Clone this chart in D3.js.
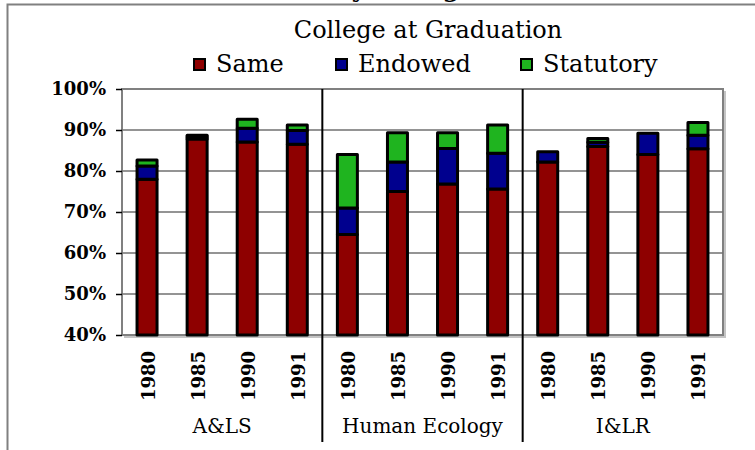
<!DOCTYPE html>
<html>
<head>
<meta charset="utf-8">
<script src="https://cdn.jsdelivr.net/npm/d3@7"></script>
<style>
    body { margin: 0; background: #fff; }
    svg { display: block; }
</style>
</head>
<body>
<svg id="chart" width="755" height="450"></svg>
<script>
// chart data
const groups = ["A&LS", "Human Ecology", "I&LR"];
const years = ["1980", "1985", "1990", "1991"];
const seriesNames = ["Same", "Endowed", "Statutory"];
const seriesColors = ["#8e0000", "#00008e", "#1fb41f"];
const same      = [78.0, 87.8, 87.1, 86.5, 64.5, 75.0, 76.8, 75.6, 82.2, 86.0, 84.0, 85.4];
const endowed   = [3.2, 0.5, 3.3, 3.4, 6.5, 7.2, 8.7, 8.7, 2.5, 1.0, 5.2, 3.3];
const statutory = [1.5, 0.4, 2.2, 1.3, 13.0, 7.1, 3.8, 6.9, 0.0, 0.9, 0.0, 3.1];
const yTicks = [40, 50, 60, 70, 80, 90, 100];

const svg = d3.select("#chart");
const plot = { left: 122, right: 723, top: 89, bottom: 335 };

// one row per bar: group|year
const rows = [];
groups.forEach((g, gi) => {
    years.forEach((yr, yi) => {
        const i = gi * years.length + yi;
        rows.push({ key: g + "|" + yr, group: g, year: yr, Same: same[i], Endowed: endowed[i], Statutory: statutory[i] });
    });
});

const x = d3.scaleBand().domain(rows.map(d => d.key)).range([plot.left, plot.right]);
const y = d3.scaleLinear().domain([40, 100]).range([plot.bottom, plot.top]);
const yMin = y.domain()[0];
const stack = d3.stack().keys(seriesNames)(rows);
const barWidth = 20;

// outer chart frame (clipped at right / bottom)
svg.append("path")
    .attr("d", "M7.5,450V4.5H755")
    .attr("fill", "none").attr("stroke", "#808080").attr("stroke-width", 2);

// top title, only its descenders show
svg.append("text")
    .attr("x", 335).attr("y", -3)
    .attr("font-family", "DejaVu Serif").attr("font-weight", "bold").attr("font-size", 24)
    .text("by College");

// plot area with light shadow
svg.append("path")
    .attr("d", `M${plot.right + 2},${plot.top + 2}V${plot.bottom + 2}H${plot.left + 2}`)
    .attr("fill", "none").attr("stroke", "#c4c4c4").attr("stroke-width", 2);
svg.append("rect")
    .attr("x", plot.left).attr("y", plot.top)
    .attr("width", plot.right - plot.left).attr("height", plot.bottom - plot.top)
    .attr("fill", "#fff").attr("stroke", "#808080").attr("stroke-width", 2);

// gridlines
svg.append("g").selectAll("line")
    .data(yTicks.slice(1, -1))
    .join("line")
    .attr("x1", plot.left).attr("x2", plot.right)
    .attr("y1", d => y(d)).attr("y2", d => y(d))
    .attr("stroke", "#707070").attr("stroke-width", 1.5);

// y axis
const yAxis = svg.append("g")
    .attr("transform", `translate(${plot.left},0)`)
    .call(d3.axisLeft(y).tickValues(yTicks).tickFormat(d => d + "%").tickSizeInner(6).tickSizeOuter(0).tickPadding(10));
yAxis.select(".domain").remove();
yAxis.selectAll(".tick line").attr("stroke", "#000").attr("stroke-width", 1.5);
yAxis.selectAll(".tick text")
    .attr("font-family", "DejaVu Serif").attr("font-weight", "bold").attr("font-size", 18).attr("fill", "#000");

// stacked bars, cut at the axis minimum
svg.append("g").selectAll("g")
    .data(stack)
    .join("g")
    .attr("fill", (d, i) => seriesColors[i])
    .selectAll("rect")
    .data(d => d.filter(s => s[1] > s[0]))
    .join("rect")
    .attr("x", d => x(d.data.key) + x.bandwidth() / 2 - barWidth / 2)
    .attr("y", d => y(d[1]))
    .attr("width", barWidth)
    .attr("height", d => y(Math.max(d[0], yMin)) - y(d[1]))
    .attr("stroke", "#000").attr("stroke-width", 3).attr("stroke-linejoin", "round");

// group separators
const groupStep = x.step() * years.length;
svg.append("g").selectAll("line")
    .data(groups.slice(1))
    .join("line")
    .attr("x1", (d, i) => plot.left + groupStep * (i + 1))
    .attr("x2", (d, i) => plot.left + groupStep * (i + 1))
    .attr("y1", plot.top).attr("y2", 442)
    .attr("stroke", "#000").attr("stroke-width", 2);

// year labels (rotated)
svg.append("g").selectAll("text")
    .data(rows)
    .join("text")
    .attr("transform", d => `translate(${x(d.key) + x.bandwidth() / 2 + 1},351) rotate(-90)`)
    .attr("text-anchor", "end").attr("dy", "0.36em")
    .attr("font-family", "DejaVu Serif").attr("font-weight", "bold").attr("font-size", 18)
    .text(d => d.year);

// group labels
svg.append("g").selectAll("text")
    .data(groups)
    .join("text")
    .attr("x", (d, i) => plot.left + groupStep * (i + 0.5))
    .attr("y", 433)
    .attr("text-anchor", "middle")
    .attr("font-family", "DejaVu Serif").attr("font-size", 20)
    .text(d => d);

// title
svg.append("text")
    .attr("x", 428).attr("y", 38)
    .attr("text-anchor", "middle")
    .attr("font-family", "DejaVu Serif").attr("font-size", 24)
    .text("College at Graduation");

// legend
const legendStart = [193, 335, 520];
const legend = svg.append("g").selectAll("g")
    .data(seriesNames)
    .join("g")
    .attr("transform", (d, i) => `translate(${legendStart[i]},0)`);
legend.append("rect")
    .attr("x", 1).attr("y", 59).attr("width", 11).attr("height", 11)
    .attr("fill", (d, i) => seriesColors[i])
    .attr("stroke", "#000").attr("stroke-width", 2);
legend.append("text")
    .attr("x", 23).attr("y", 72)
    .attr("font-family", "DejaVu Serif").attr("font-size", 24)
    .text(d => d);
</script>
</body>
</html>
